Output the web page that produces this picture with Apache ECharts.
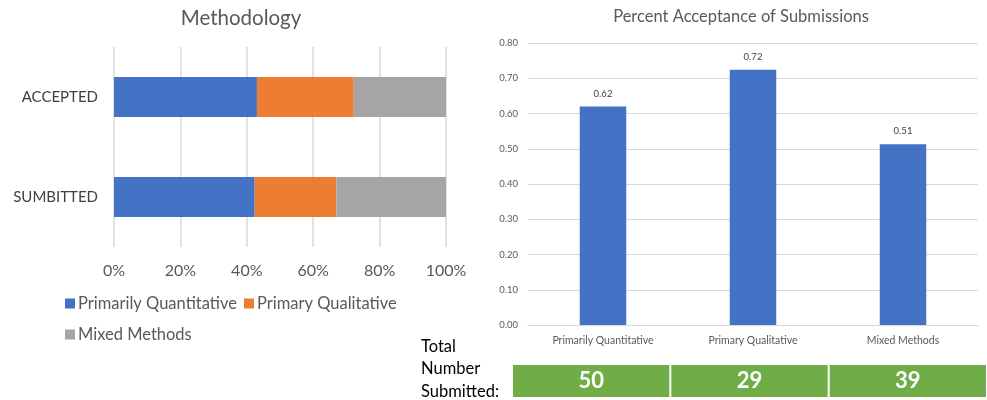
<!DOCTYPE html>
<html><head><meta charset="utf-8">
<script src="https://cdn.jsdelivr.net/npm/echarts@6/dist/echarts.min.js"></script>
<style>html,body{margin:0;padding:0;background:#fff}#c{width:987px;height:400px}</style>
</head><body><div id="c"></div>
<script>
// ---- data ----
const methodCategories = ['Primarily Quantitative', 'Primary Qualitative', 'Mixed Methods'];
const stageCategories = ['ACCEPTED', 'SUMBITTED'];
const submittedCounts = [50, 29, 39];
const acceptedCounts = [31, 21, 20];
const pctTicks = [0, 20, 40, 60, 80, 100];
const colors = ['#4472C4', '#ED7D31', '#A5A5A5'];

const sumArr = a => a.reduce((s, v) => s + v, 0);
const accTotal = sumArr(acceptedCounts), subTotal = sumArr(submittedCounts);
const stackSeries = methodCategories.map((name, i) => ({
  name, type: 'bar', stack: 'm', xAxisIndex: 0, yAxisIndex: 0,
  barWidth: '40%', itemStyle: { color: colors[i] },
  data: [acceptedCounts[i] / accTotal * 100, submittedCounts[i] / subTotal * 100]
}));
const rates = acceptedCounts.map((a, i) => a / submittedCounts[i]);

const FONT = 'Lato';
const legendCommon = {
  itemWidth: 10, itemHeight: 10, itemGap: 7, icon: 'rect', orient: 'horizontal', padding: 0,
  textStyle: { fontSize: 16.5, color: '#595959', fontFamily: FONT, padding: [0, 0, 0, -2] }
};
const chart = echarts.init(document.getElementById('c'));
chart.setOption({
  animation: false,
  textStyle: { fontFamily: FONT },
  title: [
    { text: 'Methodology', left: 241, top: 8, textAlign: 'center', padding: 0,
      textStyle: { fontSize: 20.5, fontWeight: 'normal', color: '#595959', fontFamily: FONT } },
    { text: 'Percent Acceptance of Submissions', left: 741, top: 8, textAlign: 'center', padding: 0,
      textStyle: { fontSize: 16.5, fontWeight: 'normal', color: '#595959', fontFamily: FONT } },
    { text: 'Total\nNumber\nSubmitted:', left: 421, top: 335, padding: 0,
      textStyle: { fontSize: 16.5, lineHeight: 22.5, fontWeight: 'normal', color: '#000', fontFamily: FONT } }
  ],
  legend: [
    Object.assign({ data: methodCategories.slice(0, 2), left: 65, top: 295 }, legendCommon),
    Object.assign({ data: methodCategories.slice(2), left: 65, top: 326 }, legendCommon)
  ],
  grid: [
    { left: 114, width: 332, top: 47, height: 200 },
    { left: 528, right: 9, top: 43, bottom: 75 },
    { left: 512, right: 0, top: 364, height: 34 }
  ],
  xAxis: [
    { type: 'value', gridIndex: 0, min: 0, max: 100, interval: 20,
      axisLine: { show: false }, axisTick: { show: false },
      splitLine: { lineStyle: { color: '#d9d9d9', width: 1.5 } },
      axisLabel: { formatter: v => pctTicks.includes(v) ? v + '%' : '', fontSize: 16, color: '#595959', margin: 16 } },
    { type: 'category', gridIndex: 1, data: methodCategories,
      axisLine: { lineStyle: { color: '#d9d9d9' } }, axisTick: { show: false },
      axisLabel: { fontSize: 10.5, color: '#595959', margin: 10 } },
    { type: 'category', gridIndex: 2, data: methodCategories, show: false }
  ],
  yAxis: [
    { type: 'category', gridIndex: 0, data: stageCategories, inverse: true,
      axisLine: { show: false }, axisTick: { show: false },
      axisLabel: { fontSize: 15, color: '#404040', margin: 16 } },
    { type: 'value', gridIndex: 1, min: 0, max: 0.8, interval: 0.1,
      axisLine: { show: false }, axisTick: { show: false },
      splitLine: { lineStyle: { color: '#d9d9d9' } },
      axisLabel: { formatter: v => v.toFixed(2), fontSize: 9.5, color: '#595959', margin: 10 } },
    { type: 'value', gridIndex: 2, min: 0, max: 1, show: false }
  ],
  series: [
    ...stackSeries,
    { type: 'bar', xAxisIndex: 1, yAxisIndex: 1, barWidth: '31%', data: rates,
      itemStyle: { color: '#4472C4' },
      label: { show: true, position: 'top', distance: 8, formatter: p => p.value.toFixed(2),
        fontSize: 9.5, color: '#404040' } },
    { type: 'bar', xAxisIndex: 2, yAxisIndex: 2, barWidth: '100%', barGap: 0,
      data: submittedCounts.map(() => 1),
      itemStyle: { color: '#70AD47', borderColor: '#ffffff', borderWidth: 1 },
      label: { show: true, position: 'inside', formatter: p => String(submittedCounts[p.dataIndex]),
        fontSize: 22, fontWeight: 'bold', color: '#ffffff', fontFamily: FONT } }
  ]
});
</script></body></html>
